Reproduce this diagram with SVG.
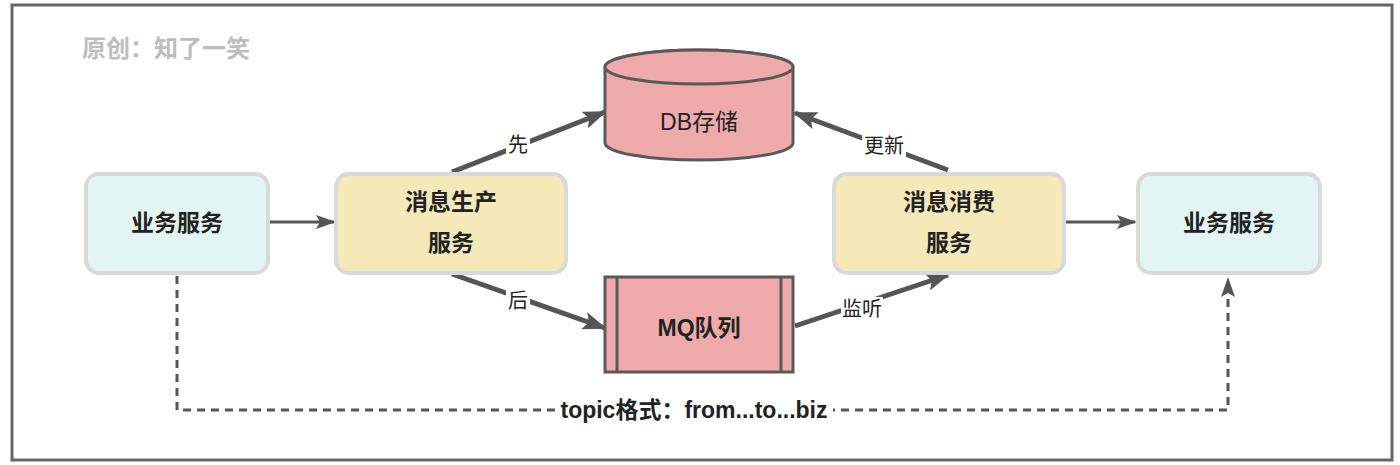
<svg xmlns="http://www.w3.org/2000/svg" width="1400" height="465" viewBox="0 0 1400 465">
<defs>
<style>
.frame{fill:#fff;stroke:#666;stroke-width:3}
.biz rect{fill:#e3f5f3;stroke:#d9d9d9;stroke-width:4}
.svc rect{fill:#f5e8b9;stroke:#d9d9d9;stroke-width:4}
.red{fill:#efabab;stroke:#5a5a5a;stroke-width:3}
.lbl{font-family:"Liberation Sans","Noto Sans CJK SC",sans-serif;font-size:23px;font-weight:bold;fill:#222;text-anchor:middle}
.db{font-family:"Liberation Sans","Noto Sans CJK SC",sans-serif;font-size:23px;fill:#222;text-anchor:middle}
.el{font-family:"Liberation Sans","Noto Sans CJK SC",sans-serif;font-size:20px;fill:#222;text-anchor:middle}
.topic{font-family:"Liberation Sans","Noto Sans CJK SC",sans-serif;font-size:23px;font-weight:bold;fill:#222;text-anchor:middle}
.conn line,.conn path{stroke:#555;fill:none}
.thick{stroke-width:5}
.thin{stroke-width:3}
.dash{stroke-width:3;stroke-dasharray:8 6}
.bg{fill:#fff}
</style>
<marker id="ah" viewBox="0 0 24 18" refX="22" refY="9" markerWidth="24" markerHeight="18" markerUnits="userSpaceOnUse" orient="auto">
<path d="M0,0 L24,9 L0,18 L5,9 z" fill="#555"/>
</marker>
<marker id="ahs" viewBox="0 0 20 14" refX="18" refY="7" markerWidth="20" markerHeight="14" markerUnits="userSpaceOnUse" orient="auto">
<path d="M0,0 L20,7 L0,14 L4,7 z" fill="#555"/>
</marker>
</defs>
<rect class="frame" x="12" y="5" width="1380" height="455"/>
<text x="82" y="57" font-family="'Liberation Sans','Noto Sans CJK SC',sans-serif" font-size="24" font-weight="bold" fill="#bdbdbd">原创：知了一笑</text>

<g class="conn">
<line class="thin" x1="270" y1="222" x2="334" y2="222" marker-end="url(#ahs)"/>
<line class="thick" x1="452" y1="172" x2="605" y2="112" marker-end="url(#ah)"/>
<line class="thick" x1="452" y1="274" x2="605" y2="328" marker-end="url(#ah)"/>
<line class="thick" x1="795" y1="326" x2="948" y2="275" marker-end="url(#ah)"/>
<line class="thick" x1="948" y1="170" x2="795" y2="113" marker-end="url(#ah)"/>
<line class="thin" x1="1066" y1="222" x2="1135" y2="222" marker-end="url(#ahs)"/>
<path class="dash" d="M177,276 L177,410 L1228,410 L1228,279" marker-end="url(#ahs)"/>
<rect class="bg" x="506" y="133" width="24" height="24"/>
<text class="el" x="518" y="152">先</text>
<rect class="bg" x="506" y="289" width="24" height="24"/>
<text class="el" x="518" y="308">后</text>
<rect class="bg" x="841" y="297" width="42" height="24"/>
<text class="el" x="862" y="316">监听</text>
<rect class="bg" x="862" y="134" width="44" height="24"/>
<text class="el" x="884" y="153">更新</text>
<rect class="bg" x="555" y="396" width="278" height="29"/>
<text class="topic" x="694" y="418">topic格式：from...to...biz</text>
</g>

<g id="biz-left" class="biz">
<rect x="86" y="174" width="182" height="99" rx="13"/>
<text class="lbl" x="177" y="231">业务服务</text>
</g>
<g id="producer" class="svc">
<rect x="336" y="174" width="230" height="99" rx="13"/>
<text class="lbl" x="451" y="210">消息生产</text>
<text class="lbl" x="451" y="251">服务</text>
</g>
<g id="db">
<path class="red" d="M605,67 L605,143 A94,17 0 0 0 793,143 L793,67 A94,17 0 0 0 605,67 z"/>
<ellipse class="red" cx="699" cy="67" rx="94" ry="17"/>
<text class="db" x="699" y="130">DB存储</text>
</g>
<g id="mq">
<rect class="red" x="605" y="277" width="188" height="95"/>
<line x1="617" y1="277" x2="617" y2="372" stroke="#5a5a5a" stroke-width="3"/>
<line x1="781" y1="277" x2="781" y2="372" stroke="#5a5a5a" stroke-width="3"/>
<text class="lbl" x="699" y="336">MQ队列</text>
</g>
<g id="consumer" class="svc">
<rect x="834" y="174" width="230" height="99" rx="13"/>
<text class="lbl" x="949" y="210">消息消费</text>
<text class="lbl" x="949" y="251">服务</text>
</g>
<g id="biz-right" class="biz">
<rect x="1138" y="174" width="182" height="99" rx="13"/>
<text class="lbl" x="1229" y="231">业务服务</text>
</g>
</svg>
